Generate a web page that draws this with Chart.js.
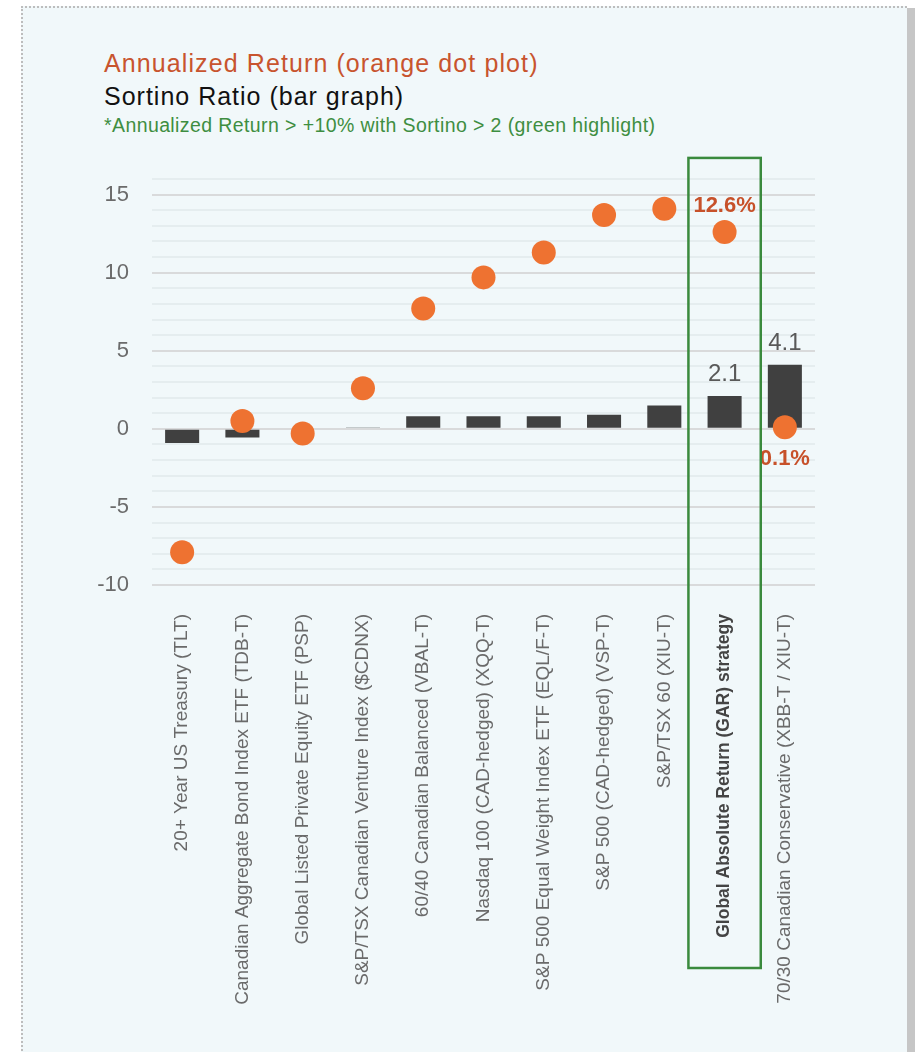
<!DOCTYPE html>
<html>
<head>
<meta charset="utf-8">
<script src="https://cdn.jsdelivr.net/npm/chart.js@4"></script>
<style>
  html, body { margin: 0; padding: 0; background: #ffffff; }
  body { width: 915px; height: 1052px; position: relative; overflow: hidden; font-family: "Liberation Sans", Arial, sans-serif; }
  #panel { position: absolute; left: 21px; top: 6px; width: 886px; height: 1060px; background: #f1f8fa;
           border-top: 2px dotted #bdbdbd; border-left: 2px dotted #bdbdbd; box-sizing: border-box; }
  #edge { position: absolute; left: 907px; top: 8px; width: 8px; height: 1052px; background: #c6c6c6; }
  .t { position: absolute; left: 104px; white-space: nowrap; line-height: 1; }
  #t1 { top: 51px; font-size: 25px; color: #c8542e; letter-spacing: 1.1px; }
  #t2 { top: 84px; font-size: 25px; color: #111111; letter-spacing: 1px; }
  #t3 { top: 116px; font-size: 19.5px; color: #3e8e41; letter-spacing: 0.4px; }
  #wrap { position: absolute; left: 0; top: 0; width: 915px; height: 1052px; }
</style>
</head>
<body>
<div id="panel"></div>
<div id="edge"></div>
<div class="t" id="t1">Annualized Return (orange dot plot)</div>
<div class="t" id="t2">Sortino Ratio (bar graph)</div>
<div class="t" id="t3">*Annualized Return &gt; +10% with Sortino &gt; 2 (green highlight)</div>
<div id="wrap"><canvas id="c" width="915" height="1052"></canvas></div>
<script>
// ---- data ----
const categories = [
  "20+ Year US Treasury (TLT)",
  "Canadian Aggregate Bond Index ETF (TDB-T)",
  "Global Listed Private Equity ETF (PSP)",
  "S&P/TSX Canadian Venture Index ($CDNX)",
  "60/40 Canadian Balanced (VBAL-T)",
  "Nasdaq 100 (CAD-hedged) (XQQ-T)",
  "S&P 500 Equal Weight Index ETF (EQL/F-T)",
  "S&P 500 (CAD-hedged) (VSP-T)",
  "S&P/TSX 60 (XIU-T)",
  "Global Absolute Return (GAR) strategy",
  "70/30 Canadian Conservative (XBB-T / XIU-T)"
];
const sortinoRatio = [-0.9, -0.55, 0.0, 0.05, 0.8, 0.8, 0.8, 0.9, 1.5, 2.1, 4.1];
const annualizedReturn = [-7.9, 0.5, -0.3, 2.6, 7.7, 9.7, 11.3, 13.7, 14.1, 12.6, 0.1];
const sortinoLabelShown = [false, false, false, false, false, false, false, false, false, true, true];
const returnLabelPlace = [null, null, null, null, null, null, null, null, null, "above", "below"];
const highlightIndex = 9;
const yMin = -10, yMax = 16, yMajorStep = 5;

// ---- plugin for labels and highlight box ----
const annot = {
  id: 'annot',
  afterDatasetsDraw(chart) {
    const ctx = chart.ctx;
    const xs = chart.scales.x, ys = chart.scales.y;
    const catW = xs.getPixelForValue(1) - xs.getPixelForValue(0);
    // bar value labels
    ctx.save();
    ctx.font = '24px "Liberation Sans", Arial, sans-serif';
    ctx.fillStyle = '#595959';
    ctx.textAlign = 'center';
    ctx.textBaseline = 'alphabetic';
    sortinoRatio.forEach((v, i) => {
      if (!sortinoLabelShown[i]) return;
      const x = xs.getPixelForValue(i);
      const y = ys.getPixelForValue(v);
      ctx.fillText(v.toFixed(1), x, y - 15);
    });
    // dot value labels
    ctx.font = 'bold 22px "Liberation Sans", Arial, sans-serif';
    ctx.fillStyle = '#c7512a';
    annualizedReturn.forEach((v, i) => {
      const p = returnLabelPlace[i];
      if (!p) return;
      const x = xs.getPixelForValue(i);
      const y = ys.getPixelForValue(v);
      ctx.fillText(v.toFixed(1) + '%', x, p === 'above' ? y - 20 : y + 38);
    });
    // green highlight box
    const cx = xs.getPixelForValue(highlightIndex);
    const half = catW * 0.6;
    const top = ys.getPixelForValue(yMax + 1.35);
    const bottom = chart.chartArea.bottom + 383;
    ctx.strokeStyle = '#3a8a3d';
    ctx.lineWidth = 2.5;
    ctx.strokeRect(cx - half, top, half * 2, bottom - top);
    ctx.restore();
  }
};

new Chart(document.getElementById('c'), {
  type: 'bar',
  data: {
    labels: categories,
    datasets: [
      {
        type: 'line',
        label: 'Annualized Return',
        data: annualizedReturn,
        showLine: false,
        pointRadius: 12,
        pointHoverRadius: 12,
        pointBackgroundColor: '#ee7231',
        pointBorderWidth: 0,
        borderColor: '#ee7231',
        order: 0
      },
      {
        type: 'bar',
        label: 'Sortino Ratio',
        data: sortinoRatio,
        backgroundColor: '#404040',
        borderWidth: 0,
        categoryPercentage: 1,
        barPercentage: 0.565,
        order: 1
      }
    ]
  },
  options: {
    responsive: false,
    animation: false,
    layout: { padding: { left: 0, right: 100, top: 179, bottom: 0 } },
    plugins: { legend: { display: false }, tooltip: { enabled: false } },
    scales: {
      x: {
        grid: { display: false },
        border: { display: false },
        ticks: {
          autoSkip: false,
          minRotation: 90,
          maxRotation: 90,
          padding: 21,
          color: (c) => c.index === highlightIndex ? '#444444' : '#6a6a6a',
          font: (c) => c.index === highlightIndex
            ? { family: '"Liberation Sans", Arial, sans-serif', size: 17.5, weight: 'bold' }
            : { family: '"Liberation Sans", Arial, sans-serif', size: 19, weight: 'normal' }
        },
        afterFit(scale) { scale.height = 467; }
      },
      y: {
        min: yMin,
        max: yMax,
        border: { display: false },
        grid: {
          drawTicks: false,
          lineWidth: 2,
          color: (c) => (c.tick && c.tick.value % yMajorStep === 0) ? '#d9dadb' : '#e5edef'
        },
        ticks: {
          stepSize: 1,
          autoSkip: false,
          maxTicksLimit: 100,
          padding: 23,
          color: '#6b6b6b',
          font: { family: '"Liberation Sans", Arial, sans-serif', size: 22 },
          callback: (v) => (v % yMajorStep === 0 ? String(v) : '')
        },
        afterFit(scale) { scale.width = 152; }
      }
    }
  },
  plugins: [annot]
});
</script>
</body>
</html>
